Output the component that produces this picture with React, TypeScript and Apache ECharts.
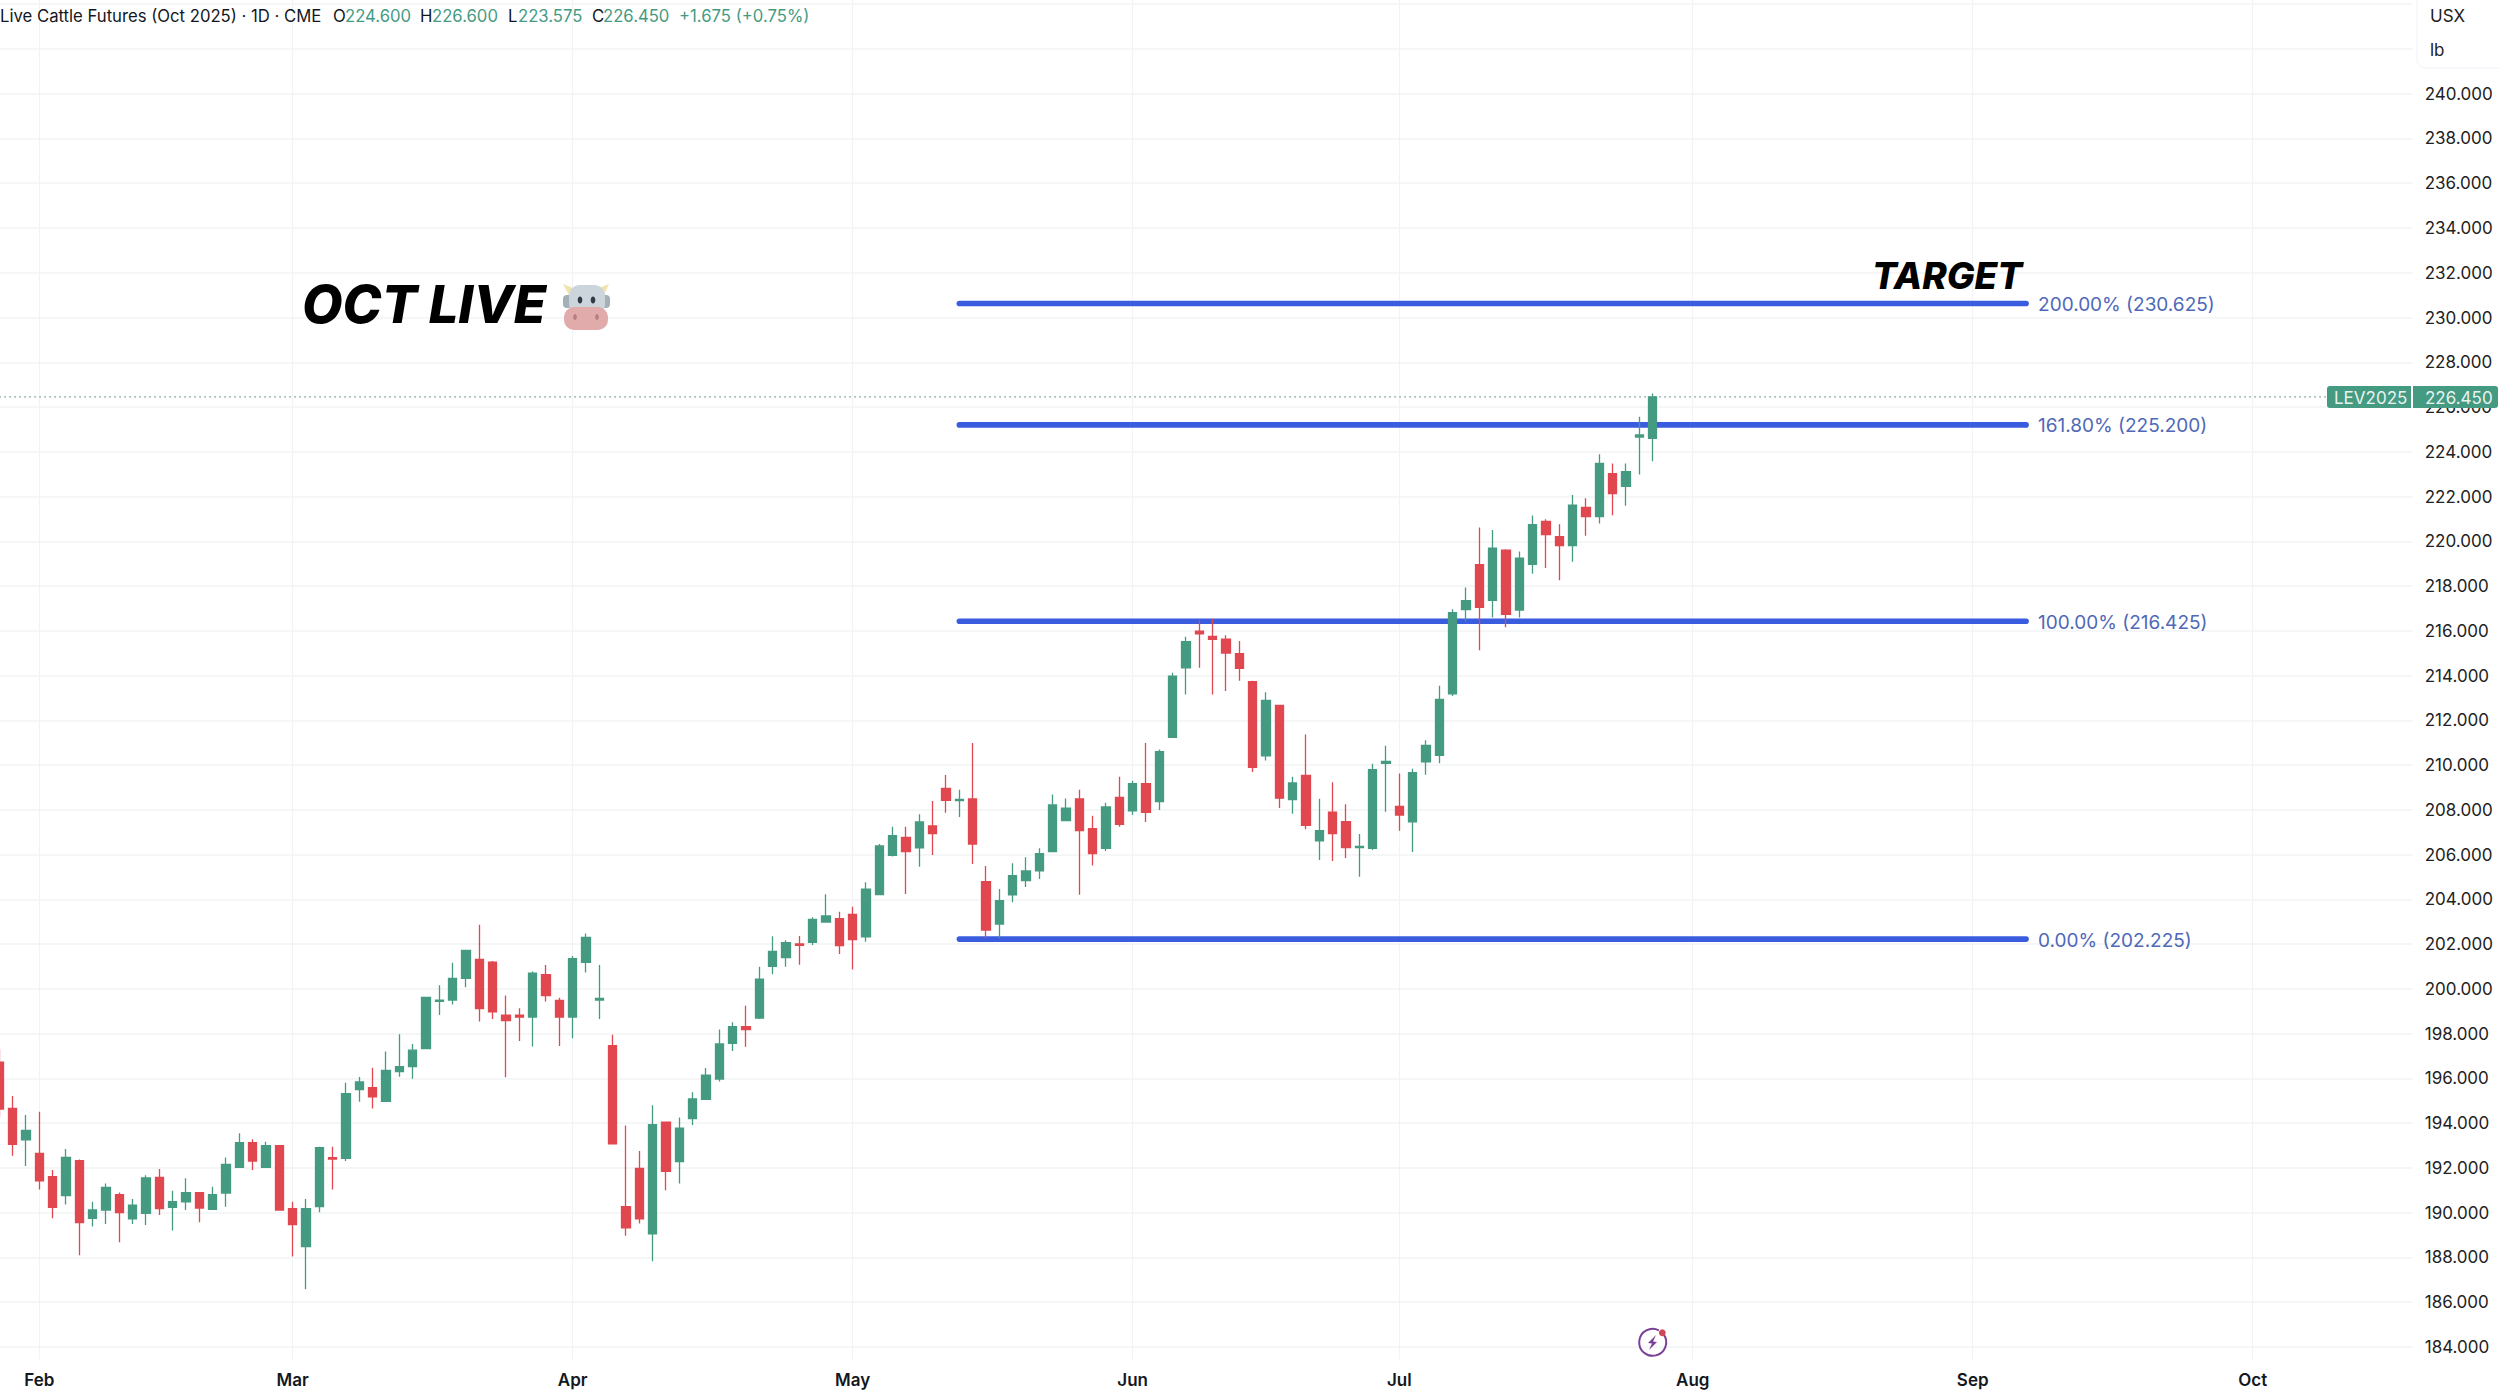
import React, { useEffect, useRef } from "react";
import * as echarts from "echarts";

const holidays = ["2025-02-17", "2025-04-18", "2025-05-26", "2025-06-19", "2025-07-04", "2025-09-01"];
const firstDay = "2025-01-29";
const lastDay = "2025-10-17";
const monthTicks: [string, string][] = [
  ["2025-02-03", "Feb"], ["2025-03-03", "Mar"], ["2025-04-01", "Apr"], ["2025-05-01", "May"],
  ["2025-06-02", "Jun"], ["2025-07-01", "Jul"], ["2025-08-01", "Aug"], ["2025-09-02", "Sep"], ["2025-10-01", "Oct"],
];
const priceTicksMax = 240;

const opens = [
  196.73,194.66,193.26,192.65,191.61,190.76,192.33,189.75,190.12,190.81,
  189.72,189.97,191.58,190.24,190.49,190.90,190.15,190.88,192.03,193.13,
  192.03,193.00,190.18,188.48,190.27,192.46,192.43,195.50,195.59,194.98,
  196.30,196.53,197.33,199.44,199.50,200.47,201.32,201.20,198.83,198.83,
  198.74,200.64,199.49,198.74,201.19,199.50,197.46,190.27,191.98,189.06,
  194.05,192.28,194.20,195.07,195.97,197.57,198.31,198.70,201.01,201.40,
  202.01,202.08,202.99,203.14,203.33,202.33,204.21,205.97,206.77,206.30,
  207.28,208.96,208.41,208.49,204.79,202.90,204.20,204.84,205.27,206.13,
  207.52,208.49,207.16,206.28,208.56,207.96,209.17,208.37,211.24,214.35,
  215.98,215.75,215.63,214.98,213.73,210.41,212.67,208.46,209.54,206.62,
  207.90,207.47,206.31,206.28,210.08,208.16,207.46,210.15,210.44,213.18,
  216.95,218.96,217.36,219.60,216.93,218.97,220.89,220.21,219.81,221.52,
  221.10,223.02,222.46,224.66,224.60,
];
const highs = [
  197.30,195.21,194.37,194.51,191.91,192.85,192.38,190.49,191.31,190.90,
  190.61,191.67,191.95,190.98,191.54,190.90,191.16,192.47,193.55,193.28,
  193.17,193.00,190.49,190.61,192.95,192.95,195.81,196.06,196.48,197.20,
  197.97,197.54,199.62,200.16,201.17,201.75,202.87,201.25,199.70,199.13,
  200.78,201.07,199.61,201.47,202.48,201.07,197.95,193.90,192.76,194.80,
  194.05,194.25,195.38,196.47,198.19,198.51,199.25,200.99,202.35,202.17,
  202.36,203.20,204.23,203.45,203.67,204.76,206.47,207.25,207.25,207.80,
  208.40,209.56,208.90,210.99,205.49,204.46,205.61,205.88,206.28,208.69,
  208.51,208.90,207.74,208.32,209.48,209.30,210.99,210.70,214.13,215.74,
  216.48,216.54,215.80,215.55,213.77,213.25,212.69,209.48,211.37,208.50,
  209.23,208.25,206.92,210.06,210.87,209.63,209.84,211.11,213.55,216.96,
  217.94,220.62,220.51,219.64,219.54,221.15,220.98,220.76,222.07,221.92,
  223.89,223.48,223.48,225.57,226.60,
];
const lows = [
  194.29,192.55,192.09,191.04,189.75,190.37,188.10,189.38,189.50,188.68,
  189.50,189.45,189.90,189.21,190.12,189.57,190.12,190.27,192.01,191.91,
  192.01,190.09,188.04,186.58,190.02,191.04,192.31,194.96,194.66,194.96,
  196.08,195.99,197.31,198.83,199.30,200.07,198.54,198.65,196.05,197.67,
  197.43,199.44,197.45,197.79,200.73,198.65,193.08,188.97,189.52,187.83,
  191.00,191.31,193.92,195.05,195.86,197.23,197.42,198.65,200.65,200.99,
  201.08,201.96,202.97,201.56,200.87,202.11,204.19,205.92,204.24,205.46,
  205.98,207.87,207.68,205.58,202.26,202.26,203.87,204.55,204.91,206.12,
  207.49,204.21,205.51,206.16,207.25,207.77,207.46,207.99,211.23,213.15,
  214.35,213.15,213.31,213.77,209.69,210.21,208.08,207.83,207.13,205.76,
  205.72,205.85,205.01,206.21,207.92,207.07,206.12,209.57,210.08,213.09,
  216.41,215.13,216.60,216.16,216.59,218.55,218.81,218.26,219.09,220.25,
  220.79,221.16,221.59,222.99,223.575,
];
const closes = [
  194.63,193.05,193.68,191.42,190.24,192.47,189.56,190.12,191.13,190.00,
  190.34,191.55,190.18,190.49,190.90,190.21,190.81,192.16,193.13,192.31,
  193.00,190.12,189.47,190.18,192.91,192.40,195.32,195.84,195.18,196.36,
  196.53,197.26,199.62,199.50,200.47,201.72,199.12,198.97,198.58,198.74,
  200.70,199.70,198.74,201.35,202.30,199.58,193.08,189.32,189.72,193.93,
  191.85,193.78,195.08,196.15,197.54,198.31,198.18,200.44,201.68,202.07,
  201.95,203.11,203.26,201.93,202.20,204.46,206.39,206.85,206.13,207.46,
  206.94,208.43,208.47,206.47,202.63,203.94,205.06,205.27,206.04,208.22,
  208.08,207.07,206.04,208.13,207.35,209.17,207.89,210.60,213.97,215.52,
  215.86,215.62,215.01,214.32,209.90,212.89,208.52,209.20,207.31,207.07,
  206.94,206.31,206.37,209.80,210.17,207.77,209.66,210.88,212.94,216.81,
  217.35,217.05,219.69,216.74,219.25,220.74,220.30,219.81,221.61,221.10,
  223.48,222.13,223.11,224.75,226.45,
];

const fibStart = "2025-05-13";
const fibEnd = "2025-09-08";
const fibLevels = [230.625, 225.2, 216.425, 202.225];
const fibPercents = ["200.00%", "161.80%", "100.00%", "0.00%"];
const lastClose = 226.45;

const GREEN = "#459b82";
const RED = "#e0474f";
const BLUE = "#3a5cdf";
const FONT = "Inter";
const GRIDC = "#f2f3f6";

function tradingDays(): string[] {
  const out: string[] = [];
  const d = new Date(firstDay + "T12:00:00Z");
  const end = new Date(lastDay + "T12:00:00Z");
  while (d <= end) {
    const s = d.toISOString().slice(0, 10);
    const wd = d.getUTCDay();
    if (wd !== 0 && wd !== 6 && !holidays.includes(s)) out.push(s);
    d.setUTCDate(d.getUTCDate() + 1);
  }
  return out;
}

const txt = (x: number, y: number, text: string, fill: string, fontSize: number, extra: any = {}) => ({
  type: "text",
  x,
  y,
  z: 100,
  style: { text, fill, fontSize, fontFamily: FONT, textVerticalAlign: "middle", ...extra },
});

export default function App() {
  const ref = useRef<HTMLDivElement>(null);
  useEffect(() => {
    const chart = echarts.init(ref.current!, undefined, { renderer: "svg" });
    const cats = tradingDays();
    const tickSet = new Map(monthTicks);
    const isMonth = (_: number, v: string) => tickSet.has(v);
    const band = 13.334;
    const fibSeries = fibLevels.map((lvl, i) => ({
      type: "line",
      name: fibPercents[i],
      data: [[fibStart, lvl], [fibEnd, lvl]],
      symbol: "none",
      z: 3,
      silent: true,
      lineStyle: { color: BLUE, width: 5.6, cap: "round" },
      endLabel: {
        show: true,
        distance: 12,
        offset: [0, 1],
        color: "#4f68b8",
        fontFamily: FONT,
        fontSize: 19,
        formatter: () => `${fibPercents[i]} (${lvl.toFixed(3)})`,
      },
    }));
    chart.setOption({
      animation: false,
      backgroundColor: "#ffffff",
      grid: { left: -0.7, top: -40.58, width: band * (cats.length - 1), height: 1387.56, outerBoundsMode: "none" },
      xAxis: {
        type: "category",
        data: cats,
        boundaryGap: false,
        axisLine: { show: false },
        axisTick: { show: true, interval: isMonth, length: 12.5, lineStyle: { color: GRIDC, width: 1 } },
        splitLine: { show: true, interval: isMonth, lineStyle: { color: GRIDC, width: 1 } },
        axisLabel: {
          interval: isMonth,
          margin: 25,
          color: "#131722",
          fontFamily: FONT,
          fontSize: 17,
          fontWeight: 600,
          formatter: (v: string) => tickSet.get(v) ?? "",
        },
      },
      yAxis: {
        type: "value",
        position: "right",
        min: 184,
        max: 246,
        interval: 2,
        axisLine: { show: false },
        axisTick: { show: false },
        splitLine: { show: true, lineStyle: { color: GRIDC, width: 1.5 } },
        axisLabel: {
          margin: 12,
          color: "#222222",
          fontFamily: FONT,
          fontSize: 17,
          formatter: (v: number) => (v > priceTicksMax ? "" : v.toFixed(3)),
        },
      },
      series: [
        ...fibSeries,
        {
          type: "line",
          name: "last",
          data: [[cats[0], lastClose], [cats[cats.length - 1], lastClose]],
          symbol: "none",
          z: 2,
          silent: true,
          lineStyle: { color: "#6f9489", width: 1.2, type: [1.5, 3.5] },
        },
        {
          type: "candlestick",
          name: "LEV2025",
          z: 5,
          barWidth: 8.6,
          itemStyle: { color: GREEN, color0: RED, borderColor: GREEN, borderColor0: RED, borderWidth: 1.3 },
          data: opens.map((o, i) => [o, closes[i], lows[i], highs[i]]),
        },
      ],
      graphic: [
        txt(0, 16, "Live Cattle Futures (Oct 2025) · 1D · CME", "#131722", 16.7),
        txt(333, 16, "O", "#131722", 16.7),
        txt(345, 16, "224.600", GREEN, 16.7),
        txt(420, 16, "H", "#131722", 16.7),
        txt(432, 16, "226.600", GREEN, 16.7),
        txt(508, 16, "L", "#131722", 16.7),
        txt(518, 16, "223.575", GREEN, 16.7),
        txt(592, 16, "C", "#131722", 16.7),
        txt(603, 16, "226.450", GREEN, 16.7),
        txt(679, 16, "+1.675 (+0.75%)", GREEN, 16.7),
        txt(302, 304, "OCT LIVE", "#000000", 52.5, { fontWeight: 800, fontStyle: "italic" }),
        txt(1872, 275, "TARGET", "#000000", 37, { fontWeight: 800, fontStyle: "italic" }),
        // price scale unit box
        { type: "rect", z: 90, shape: { x: 2417, y: -8, width: 90, height: 76, r: 8 }, style: { fill: "#ffffff", stroke: "#f0f3fa", lineWidth: 1 } },
        txt(2430, 16, "USX", "#222222", 17),
        txt(2430, 50, "lb", "#222222", 17),
        // last price tags
        { type: "rect", z: 95, shape: { x: 2327, y: 386, width: 84, height: 22, r: [3, 0, 0, 3] }, style: { fill: GREEN } },
        { type: "rect", z: 95, shape: { x: 2413, y: 386, width: 85, height: 22, r: [0, 3, 3, 0] }, style: { fill: GREEN } },
        txt(2334, 397.5, "LEV2025", "#ffffff", 17, { opacity: 0.9 }),
        txt(2425, 397.5, "226.450", "#ffffff", 17, { opacity: 0.9 }),
        // cow emoji
        { type: "polygon", z: 96, shape: { points: [[563, 284], [573, 288], [570, 297]] }, style: { fill: "#f1e3ac" } },
        { type: "polygon", z: 96, shape: { points: [[609, 284], [599, 288], [603, 297]] }, style: { fill: "#f1e3ac" } },
        { type: "rect", z: 96, shape: { x: 563, y: 295, width: 10, height: 13, r: 4 }, style: { fill: "#a3b1b7" } },
        { type: "rect", z: 96, shape: { x: 600, y: 295, width: 10, height: 13, r: 4 }, style: { fill: "#a3b1b7" } },
        { type: "rect", z: 97, shape: { x: 569, y: 285, width: 36, height: 30, r: 11 }, style: { fill: "#ccd4dc" } },
        { type: "ellipse", z: 98, shape: { cx: 580, cy: 300, rx: 2.3, ry: 3.4 }, style: { fill: "#2f3a45" } },
        { type: "ellipse", z: 98, shape: { cx: 593, cy: 300, rx: 2.3, ry: 3.4 }, style: { fill: "#2f3a45" } },
        { type: "rect", z: 98, shape: { x: 564, y: 307, width: 44, height: 23, r: 10 }, style: { fill: "#e2abab" } },
        { type: "ellipse", z: 99, shape: { cx: 575, cy: 317, rx: 1.8, ry: 3 }, style: { fill: "#b87d7d" } },
        { type: "ellipse", z: 99, shape: { cx: 597, cy: 317, rx: 1.8, ry: 3 }, style: { fill: "#b87d7d" } },
        // flash icon
        { type: "arc", z: 96, shape: { cx: 1652.7, cy: 1342.3, r: 13.5, startAngle: -0.6, endAngle: -1.1, clockwise: true }, style: { stroke: "#7a3f96", lineWidth: 2, fill: "none" } },
        { type: "polygon", z: 96, shape: { points: [[1656, 1335], [1648, 1343], [1652, 1343.5], [1649, 1350], [1657, 1342], [1653, 1341.5]] }, style: { fill: "#7a3f96" } },
        { type: "circle", z: 97, shape: { cx: 1662.3, cy: 1332.7, r: 3.4 }, style: { fill: "#d04a55" } },
      ],
    });
    return () => chart.dispose();
  }, []);
  return <div ref={ref} style={{ position: "absolute", left: 0, top: 0, width: 2500, height: 1391 }} />;
}
